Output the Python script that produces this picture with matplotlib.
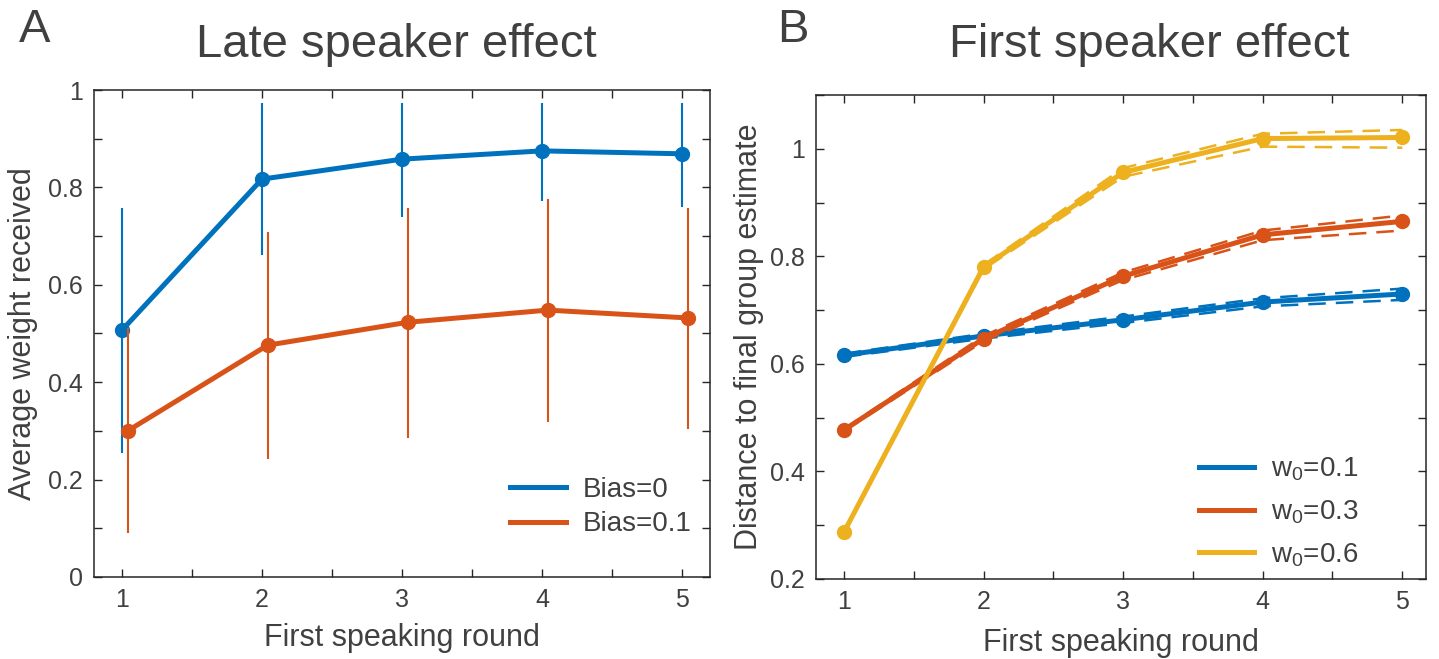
import matplotlib
matplotlib.use("Agg")
import matplotlib.pyplot as plt
import numpy as np
from matplotlib.ticker import MultipleLocator

plt.rcParams['font.family'] = ['Liberation Sans', 'DejaVu Sans']
plt.rcParams['mathtext.default'] = 'regular'

# ---------------- data ----------------
rounds = [1, 2, 3, 4, 5]

# Panel A: late speaker effect
bias0_mean = [0.507, 0.817, 0.858, 0.875, 0.869]
bias0_lo = [0.255, 0.661, 0.739, 0.772, 0.760]
bias0_hi = [0.758, 0.973, 0.973, 0.973, 0.973]
bias01_mean = [0.300, 0.476, 0.523, 0.548, 0.532]
bias01_lo = [0.090, 0.242, 0.286, 0.318, 0.303]
bias01_hi = [0.511, 0.709, 0.758, 0.776, 0.758]
labels_a = ['Bias=0', 'Bias=0.1']

# Panel B: first speaker effect
w01_mean = [0.616, 0.652, 0.682, 0.715, 0.730]
w01_lo = [0.613, 0.647, 0.676, 0.707, 0.719]
w01_hi = [0.619, 0.656, 0.688, 0.722, 0.740]
w03_mean = [0.477, 0.647, 0.763, 0.840, 0.865]
w03_lo = [0.475, 0.642, 0.756, 0.830, 0.848]
w03_hi = [0.479, 0.652, 0.770, 0.848, 0.876]
w06_mean = [0.287, 0.780, 0.956, 1.019, 1.021]
w06_lo = [0.287, 0.776, 0.948, 1.004, 1.002]
w06_hi = [0.287, 0.784, 0.964, 1.028, 1.035]
labels_b = ['w$_0$=0.1', 'w$_0$=0.3', 'w$_0$=0.6']

# ---------------- style ----------------
BLUE = '#0072BD'
ORANGE = '#D95319'
YELLOW = '#EDB120'
TXT = '#404040'
AX = '#262626'

W, H = 1439, 659
fig = plt.figure(figsize=(W / 100, H / 100), dpi=100)

def px_axes(l, r, t, b):
    return fig.add_axes([l / W, 1 - b / H, (r - l) / W, (b - t) / H])

def style(ax):
    for s in ax.spines.values():
        s.set_color(AX)
        s.set_linewidth(1.1)
    ax.tick_params(which='both', direction='in', top=True, right=True,
                   length=6, width=1.0, color=AX, labelcolor=TXT,
                   labelsize=18, pad=8)

# ---------------- Panel A ----------------
axA = px_axes(94, 710, 90, 577)
style(axA)
xA_orange = np.array(rounds) + 0.04
axA.vlines(rounds, bias0_lo, bias0_hi, color=BLUE, lw=1.5, zorder=2)
axA.plot(rounds, bias0_mean, '-', color=BLUE, lw=3.6, label=labels_a[0], zorder=3)
axA.plot(rounds, bias0_mean, 'o', color=BLUE, ms=10, zorder=3)
axA.vlines(xA_orange, bias01_lo, bias01_hi, color=ORANGE, lw=1.5, zorder=4)
axA.plot(xA_orange, bias01_mean, '-', color=ORANGE, lw=3.6, label=labels_a[1], zorder=5)
axA.plot(xA_orange, bias01_mean, 'o', color=ORANGE, ms=10, zorder=5)
axA.set_xlim(0.8, 5.2)
axA.set_ylim(0, 1)
axA.xaxis.set_minor_locator(MultipleLocator(0.5))
axA.yaxis.set_minor_locator(MultipleLocator(0.1))
axA.set_yticks([0, 0.2, 0.4, 0.6, 0.8, 1])
axA.set_yticklabels(['0', '0.2', '0.4', '0.6', '0.8', '1'])
axA.set_xticks(rounds)
axA.set_xticklabels([str(r) for r in rounds])
axA.set_xlabel('First speaking round', fontsize=22, color=TXT, labelpad=8)
axA.set_ylabel('Average weight received', fontsize=22, color=TXT, labelpad=7)
axA.legend(loc='lower right', bbox_to_anchor=(1.01, 0.03), frameon=False,
           fontsize=20, handlelength=2.0, handletextpad=0.6,
           labelspacing=0.3, labelcolor=TXT)

# ---------------- Panel B ----------------
axB = px_axes(816, 1426, 95, 579)
style(axB)
series_b = [
    (w01_mean, w01_lo, w01_hi, BLUE),
    (w03_mean, w03_lo, w03_hi, ORANGE),
    (w06_mean, w06_lo, w06_hi, YELLOW),
]
for i, (m, lo, hi, c) in enumerate(series_b):
    z = 2 + i * 2
    axB.plot(rounds, lo, '--', color=c, lw=1.8, dashes=(7, 4), zorder=z)
    axB.plot(rounds, hi, '--', color=c, lw=1.8, dashes=(7, 4), zorder=z)
    axB.plot(rounds, m, '-', color=c, lw=3.6, label=labels_b[i], zorder=z + 1)
    axB.plot(rounds, m, 'o', color=c, ms=10, zorder=z + 1)
axB.set_xlim(0.8, 5.17)
axB.set_ylim(0.2, 1.1)
axB.xaxis.set_minor_locator(MultipleLocator(0.5))
axB.yaxis.set_minor_locator(MultipleLocator(0.1))
axB.set_xticks(rounds)
axB.set_xticklabels([str(r) for r in rounds])
axB.set_yticks([0.2, 0.4, 0.6, 0.8, 1.0])
axB.set_yticklabels(['0.2', '0.4', '0.6', '0.8', '1'])
axB.set_xlabel('First speaking round', fontsize=22, color=TXT, labelpad=10)
axB.set_ylabel('Distance to final group estimate', fontsize=22, color=TXT, labelpad=4)
axB.legend(loc='lower right', bbox_to_anchor=(0.93, -0.03), frameon=False,
           fontsize=20, handlelength=2.0, handletextpad=0.6,
           labelspacing=0.55, labelcolor=TXT)

# ---------------- titles and panel letters ----------------
fig.text(396 / W, 1 - 45 / H, 'Late speaker effect', fontsize=34, color=TXT,
         ha='center', va='center')
fig.text(1149 / W, 1 - 45 / H, 'First speaker effect', fontsize=34, color=TXT,
         ha='center', va='center')
fig.text(35 / W, 1 - 30 / H, 'A', fontsize=34, color=TXT, ha='center', va='center')
fig.text(793 / W, 1 - 30 / H, 'B', fontsize=34, color=TXT, ha='center', va='center')

fig.savefig('out.png', dpi=100)
